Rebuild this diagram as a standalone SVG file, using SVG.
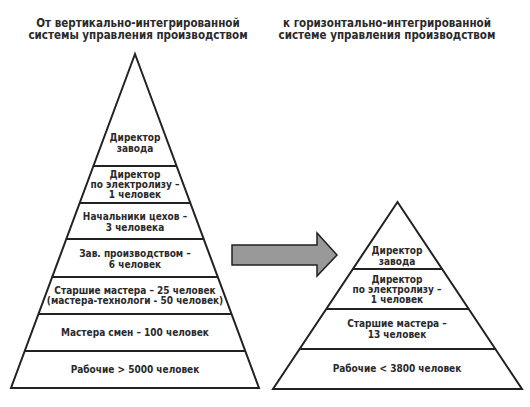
<svg xmlns="http://www.w3.org/2000/svg" width="530" height="407" viewBox="0 0 530 407">
<style>
.t{font-family:"DejaVu Sans Condensed","DejaVu Sans","Liberation Sans",sans-serif;font-weight:bold;font-size:10px;fill:#2a2a2a;text-anchor:middle}
.h{font-size:11.5px}
.ln{stroke:#222;stroke-width:2;fill:none}
.pyr{stroke:#222;stroke-width:2;fill:none;stroke-linejoin:miter}
</style>
<rect width="530" height="407" fill="#fff"/>
<g id="title-left"><text class="t h" x="138" y="26.5">От вертикально-интегрированной</text><text class="t h" x="138" y="39">системы управления производством</text></g>
<g id="title-right"><text class="t h" x="387" y="26.5">к горизонтально-интегрированной</text><text class="t h" x="387" y="39">системе управления производством</text></g>
<g id="left-pyramid">
<polygon class="pyr" points="135,54 259,388 11,388"/>
</g>
<g id="right-pyramid">
<polygon class="pyr" points="397.5,202 522,389 273,389"/>
</g>
<g id="connectors">
<line class="ln" x1="93" y1="166" x2="177" y2="166"/>
<line class="ln" x1="79.3" y1="203" x2="190.7" y2="203"/>
<line class="ln" x1="65.9" y1="239" x2="204.1" y2="239"/>
<line class="ln" x1="51.8" y1="277" x2="218.2" y2="277"/>
<line class="ln" x1="38" y1="314" x2="232" y2="314"/>
<line class="ln" x1="24.3" y1="351" x2="245.7" y2="351"/>
<line class="ln" x1="352.9" y1="269" x2="442.1" y2="269"/>
<line class="ln" x1="326.3" y1="309" x2="468.7" y2="309"/>
<line class="ln" x1="299.6" y1="349" x2="495.4" y2="349"/>
<polygon points="232,245 317,245 317,233 337,255 317,276 317,265 232,265" fill="#999" stroke="#222" stroke-width="1.5"/>
</g>
<g id="l1"><text class="t" x="135" y="141">Директор</text><text class="t" x="135" y="152">завода</text></g>
<g id="l2"><text class="t" x="135" y="178">Директор</text><text class="t" x="135" y="188">по электролизу –</text><text class="t" x="135" y="198">1 человек</text></g>
<g id="l3"><text class="t" x="135" y="220">Начальники цехов –</text><text class="t" x="135" y="231">3 человека</text></g>
<g id="l4"><text class="t" x="135" y="257">Зав. производством –</text><text class="t" x="135" y="268">6 человек</text></g>
<g id="l5"><text class="t" x="135" y="294">Старшие мастера – 25 человек</text><text class="t" x="135" y="304">(мастера-технологи - 50 человек)</text></g>
<g id="l6"><text class="t" x="135" y="336">Мастера смен – 100 человек</text></g>
<g id="l7"><text class="t" x="135" y="373">Рабочие &gt; 5000 человек</text></g>
<g id="r1"><text class="t" x="397" y="254">Директор</text><text class="t" x="397" y="265">завода</text></g>
<g id="r2"><text class="t" x="397" y="283">Директор</text><text class="t" x="397" y="293">по электролизу –</text><text class="t" x="397" y="303">1 человек</text></g>
<g id="r3"><text class="t" x="397" y="327">Старшие мастера –</text><text class="t" x="397" y="338">13 человек</text></g>
<g id="r4"><text class="t" x="397" y="372">Рабочие &lt; 3800 человек</text></g>
</svg>
